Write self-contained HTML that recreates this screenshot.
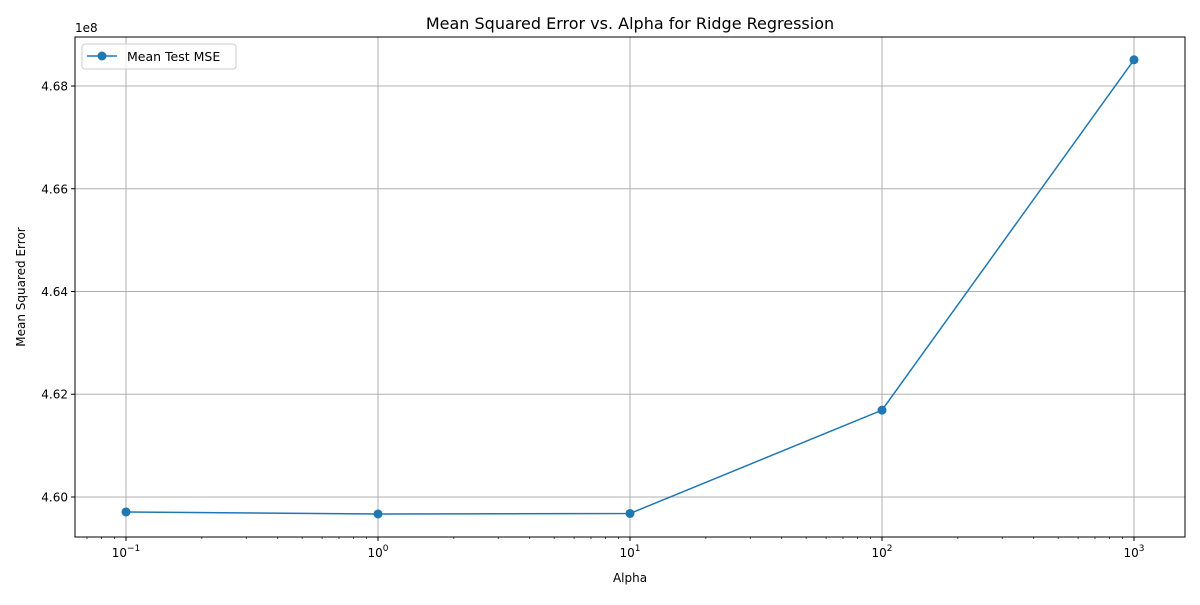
<!DOCTYPE html>
<html><head><meta charset="utf-8"><style>
body{margin:0;background:#fff;}
svg text{font-family:"DejaVu Sans","Liberation Sans",sans-serif;fill:#000;}
</style></head><body>
<svg id="chart" width="1200" height="600" xmlns="http://www.w3.org/2000/svg">
<rect width="1200" height="600" fill="#fff"/>
<g id="grid"></g><g id="axes"></g><g id="series"></g>
<text x="630" y="29" font-size="16" text-anchor="middle">Mean Squared Error vs. Alpha for Ridge Regression</text>
<text x="630" y="582" font-size="12" text-anchor="middle">Alpha</text>
<text transform="translate(25,287) rotate(-90)" font-size="12" text-anchor="middle">Mean Squared Error</text>
<text x="75" y="32" font-size="12">1e8</text>
<g>
<rect x="82" y="44" width="154" height="25" rx="3" fill="#fff" fill-opacity="0.8" stroke="#ccc"/>
<line x1="87" y1="56" x2="117" y2="56" stroke="#1f77b4" stroke-width="1.5"/>
<circle cx="102" cy="56" r="4.5" fill="#1f77b4"/>
<text x="127" y="61" font-size="12.5">Mean Test MSE</text>
</g>
</svg>
<script>
const alphas=[0.1,1,10,100,1000];
const mse=[4.59708,4.59669,4.59679,4.6169,4.6851];
const yTicks=[4.60,4.62,4.64,4.66,4.68];
const xTickExps=[-1,0,1,2,3];
const L=75,R=1185,T=37,B=537;
const xmin=-1.2024,xmax=3.2024,ymin=4.59221,ymax=4.68954;
const xs=v=>L+(Math.log10(v)-xmin)/(xmax-xmin)*(R-L);
const ys=v=>B-(v-ymin)/(ymax-ymin)*(B-T);
const NS="http://www.w3.org/2000/svg";
function mk(t,a,p){const e=document.createElementNS(NS,t);for(const k in a)e.setAttribute(k,a[k]);p.appendChild(e);return e;}
const grid=document.getElementById('grid'),axes=document.getElementById('axes'),ser=document.getElementById('series');
xTickExps.forEach(e=>{const x=xs(Math.pow(10,e));
const g=mk('line',{x1:x,x2:x,y1:T,y2:B,stroke:'#b0b0b0','stroke-width':1},grid);


mk('line',{x1:x,x2:x,y1:B,y2:B+4,stroke:'#000','stroke-width':1},axes);
const t=mk('text',{x:x,y:B+20,'font-size':12,'text-anchor':'middle'},axes);


t.innerHTML='10<tspan dy="-6" font-size="9">'+(e<0?'−'+(-e):e)+'</tspan>';
});
for(let e=-2;e<=3;e++)for(let m=2;m<=9;m++){const v=m*Math.pow(10,e);const lv=Math.log10(v);if(lv<xmin||lv>xmax)continue;const x=xs(v);
mk('line',{x1:x,x2:x,y1:B,y2:B+2,stroke:'#000','stroke-width':0.7},axes);}
yTicks.forEach(v=>{const y=ys(v);
const g=mk('line',{x1:L,x2:R,y1:y,y2:y,stroke:'#b0b0b0','stroke-width':1},grid);


mk('line',{x1:L-4,x2:L,y1:y,y2:y,stroke:'#000','stroke-width':1},axes);
const t=mk('text',{x:L-7,y:y+4.5,'font-size':12,'text-anchor':'end'},axes);


t.textContent=v.toFixed(2);
});
const fr=mk('rect',{x:L,y:T,width:R-L,height:B-T,fill:'none',stroke:'#000','stroke-width':1},axes);


const pl=mk('polyline',{points:alphas.map((a,i)=>xs(a)+','+ys(mse[i])).join(' '),fill:'none',stroke:'#1f77b4','stroke-width':1.5},ser);


alphas.forEach((a,i)=>{const c=mk('circle',{cx:xs(a),cy:ys(mse[i]),r:4.5,fill:'#1f77b4'},ser);

});
</script>
</body></html>
